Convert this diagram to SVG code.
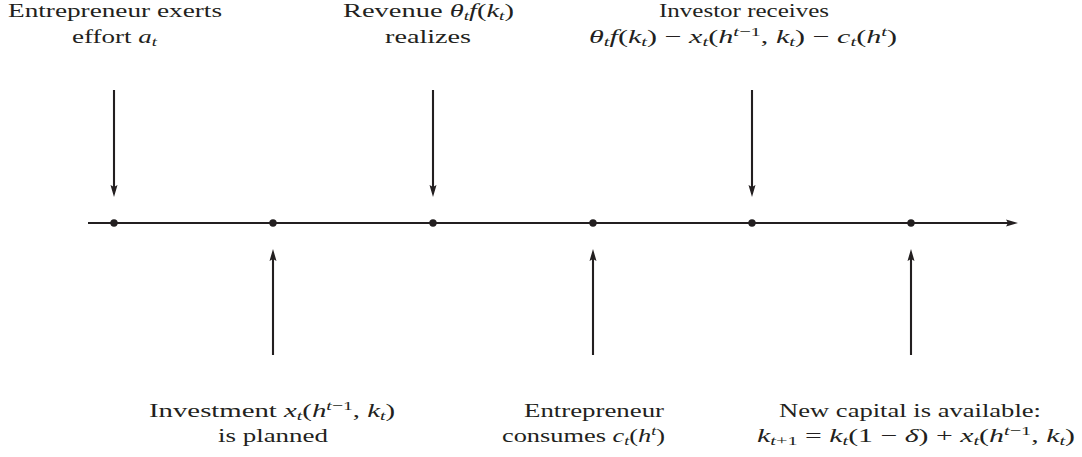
<svg xmlns="http://www.w3.org/2000/svg" width="1082" height="457" viewBox="0 0 1082 457">
<style>
text{font-family:"Liberation Serif","Times New Roman",serif;font-size:19px;fill:#231f20}
.i{font-style:italic}
.s{font-size:13px;font-style:italic}
.n{font-size:13px}
.ln{stroke:#231f20;stroke-width:2.1;fill:none}
.dot{fill:#231f20}
</style>
<defs>
<marker id="ah" viewBox="0 -4 12 8" refX="2" refY="0" markerWidth="12" markerHeight="8" markerUnits="userSpaceOnUse" orient="auto">
<path d="M0,-3.5 L12,0 L0,3.5 L2,0 Z" fill="#231f20"/>
</marker>
</defs>
<rect width="1082" height="457" fill="#fff"/>
<g id="connectors">
<line class="ln" x1="88" y1="223" x2="1008" y2="223" marker-end="url(#ah)"/>
<line class="ln" x1="114" y1="90" x2="114" y2="187" marker-end="url(#ah)"/>
<line class="ln" x1="433" y1="90" x2="433" y2="187" marker-end="url(#ah)"/>
<line class="ln" x1="752" y1="90" x2="752" y2="187" marker-end="url(#ah)"/>
<line class="ln" x1="273" y1="355" x2="273" y2="259" marker-end="url(#ah)"/>
<line class="ln" x1="593" y1="355" x2="593" y2="259" marker-end="url(#ah)"/>
<line class="ln" x1="911" y1="355" x2="911" y2="259" marker-end="url(#ah)"/>
</g>
<g id="effort">
<circle class="dot" cx="114" cy="223" r="3.7"/>
<text x="8" y="17" textLength="214" lengthAdjust="spacingAndGlyphs">Entrepreneur exerts</text>
<text x="72" y="43" textLength="85" lengthAdjust="spacingAndGlyphs">effort <tspan class="i">a</tspan><tspan class="s" dy="3">t</tspan></text>
</g>
<g id="investment">
<circle class="dot" cx="273" cy="223" r="3.7"/>
<text x="149" y="417" textLength="246" lengthAdjust="spacingAndGlyphs">Investment <tspan class="i">x</tspan><tspan class="s" dy="3">t</tspan><tspan dy="-3">(</tspan><tspan class="i">h</tspan><tspan class="s" dy="-7">t</tspan><tspan class="n">−1</tspan><tspan dy="7">, </tspan><tspan class="i">k</tspan><tspan class="s" dy="3">t</tspan><tspan dy="-3">)</tspan></text>
<text x="218" y="442" textLength="110" lengthAdjust="spacingAndGlyphs">is planned</text>
</g>
<g id="revenue">
<circle class="dot" cx="433" cy="223" r="3.7"/>
<text x="343" y="17" textLength="171" lengthAdjust="spacingAndGlyphs">Revenue <tspan class="i">θ</tspan><tspan class="s" dy="3">t</tspan><tspan class="i" dy="-3">f</tspan><tspan>(</tspan><tspan class="i">k</tspan><tspan class="s" dy="3">t</tspan><tspan dy="-3">)</tspan></text>
<text x="385" y="43" textLength="86" lengthAdjust="spacingAndGlyphs">realizes</text>
</g>
<g id="consumes">
<circle class="dot" cx="593" cy="223" r="3.7"/>
<text x="524" y="417" textLength="140" lengthAdjust="spacingAndGlyphs">Entrepreneur</text>
<text x="502" y="442" textLength="163" lengthAdjust="spacingAndGlyphs">consumes <tspan class="i">c</tspan><tspan class="s" dy="3">t</tspan><tspan dy="-3">(</tspan><tspan class="i">h</tspan><tspan class="s" dy="-7">t</tspan><tspan dy="7">)</tspan></text>
</g>
<g id="investor">
<circle class="dot" cx="752" cy="223" r="3.7"/>
<text x="659" y="17" textLength="170" lengthAdjust="spacingAndGlyphs">Investor receives</text>
<text x="589" y="43" textLength="308" lengthAdjust="spacingAndGlyphs"><tspan class="i">θ</tspan><tspan class="s" dy="3">t</tspan><tspan class="i" dy="-3">f</tspan><tspan>(</tspan><tspan class="i">k</tspan><tspan class="s" dy="3">t</tspan><tspan dy="-3">) − </tspan><tspan class="i">x</tspan><tspan class="s" dy="3">t</tspan><tspan dy="-3">(</tspan><tspan class="i">h</tspan><tspan class="s" dy="-7">t</tspan><tspan class="n">−1</tspan><tspan dy="7">, </tspan><tspan class="i">k</tspan><tspan class="s" dy="3">t</tspan><tspan dy="-3">) − </tspan><tspan class="i">c</tspan><tspan class="s" dy="3">t</tspan><tspan dy="-3">(</tspan><tspan class="i">h</tspan><tspan class="s" dy="-7">t</tspan><tspan dy="7">)</tspan></text>
</g>
<g id="capital">
<circle class="dot" cx="911" cy="223" r="3.7"/>
<text x="779" y="417" textLength="262" lengthAdjust="spacingAndGlyphs">New capital is available:</text>
<text x="757" y="442" textLength="318" lengthAdjust="spacingAndGlyphs"><tspan class="i">k</tspan><tspan class="s" dy="3">t</tspan><tspan class="n">+1</tspan><tspan dy="-3"> = </tspan><tspan class="i">k</tspan><tspan class="s" dy="3">t</tspan><tspan dy="-3">(1 − </tspan><tspan class="i">δ</tspan><tspan>) + </tspan><tspan class="i">x</tspan><tspan class="s" dy="3">t</tspan><tspan dy="-3">(</tspan><tspan class="i">h</tspan><tspan class="s" dy="-7">t</tspan><tspan class="n">−1</tspan><tspan dy="7">, </tspan><tspan class="i">k</tspan><tspan class="s" dy="3">t</tspan><tspan dy="-3">)</tspan></text>
</g>
</svg>
